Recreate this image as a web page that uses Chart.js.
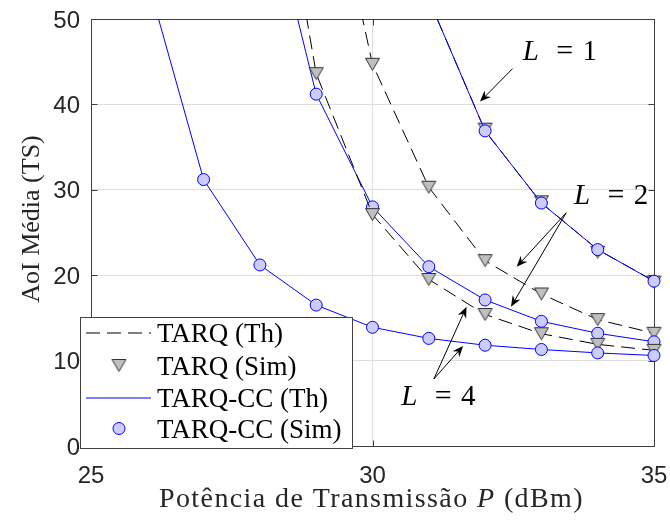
<!DOCTYPE html>
<html>
<head>
<meta charset="utf-8">
<script src="https://cdn.jsdelivr.net/npm/chart.js@4.4.1/dist/chart.umd.min.js"></script>
<style>
body{margin:0;background:#fff;}
</style>
</head>
<body>
<canvas id="chart" width="670" height="524"></canvas>
<script>
// transmit power (dBm)
const power = [25,26,27,28,29,30,31,32,33,34,35];
const xTicks = [25,30,35];
const yTicks = [0,10,20,30,40,50];

// theoretical AoI, null where the curve is not drawn
const tarqThL1 = [null,null,null,null,null,null,52.3,36.9,28.45,23.0,19.3];
const tarqThL2 = [null,null,null,null,74.9,44.7,30.3,21.7,17.8,14.8,13.2];
const tarqThL4 = [null,null,null,82.0,43.6,27.1,19.5,15.4,13.15,11.9,11.2];
const ccThL1 = [null,null,null,null,null,null,52.3,36.9,28.45,23.0,19.3];
const ccThL2 = [null,null,null,67.9,41.2,28.0,21.0,17.1,14.6,13.2,12.2];
const ccThL4 = [null,54.7,31.2,21.2,16.5,13.9,12.6,11.8,11.3,10.9,10.6];

// simulated AoI
const tarqSimL1 = [null,null,null,null,null,null,null,37.1,28.6,22.7,19.2];
const tarqSimL2 = [null,null,null,null,null,44.7,30.3,21.7,17.8,14.8,13.2];
const tarqSimL4 = [null,null,null,null,43.6,27.1,19.5,15.4,13.15,11.9,11.2];
const ccSimL1 = [null,null,null,null,null,null,null,36.9,28.45,23.0,19.3];
const ccSimL2 = [null,null,null,null,41.2,28.0,21.0,17.1,14.6,13.2,12.2];
const ccSimL4 = [null,null,31.2,21.2,16.5,13.9,12.6,11.8,11.3,10.9,10.6];

// L annotations (data coords): text anchor, arrow start, arrow tips
const lNames = ['1','2','4'];
const lTextAt = [[32.67,45.25],[33.58,28.37],[30.51,4.77]];
const lArrowFrom = [[32.49,44.2],[33.44,27.3],[31.09,7.85]];
const lArrowTo = [[[31.91,40.33]],[[32.56,20.98],[32.46,16.3]],[[31.67,16.3],[31.61,11.72]]];

const legendNames = ['TARQ (Th)','TARQ (Sim)','TARQ-CC (Th)','TARQ-CC (Sim)'];

const BLUE = '#0000ff';
const serif = '"Liberation Serif","Times New Roman",serif';
const sans = '"Liberation Sans",Arial,sans-serif';

// down-pointing triangle marker
const tri = document.createElement('canvas');
tri.width = 17; tri.height = 15;
(function(){
  let c = tri.getContext('2d');
  c.beginPath();
  c.moveTo(1.5,1.5); c.lineTo(15.5,1.5); c.lineTo(8.5,13.5); c.closePath();
  c.fillStyle = '#bfbfbf'; c.fill();
  c.strokeStyle = '#333'; c.lineWidth = 1; c.stroke();
})();

function pts(arr){
  return power.map((x,i) => ({x:x, y:arr[i]})).filter(p => p.y !== null);
}

function thLine(arr, tarq){
  return {
    data: pts(arr), borderColor: tarq ? '#000' : BLUE, borderWidth: 1,
    borderDash: tarq ? [14,7] : [], pointRadius: 0, tension: 0, fill: false
  };
}
function simPts(arr, tarq){
  return {
    data: pts(arr), showLine: false, clip: false,
    pointStyle: tarq ? tri : 'circle', pointRadius: tarq ? 8 : 6,
    pointBackgroundColor: '#ccccff', pointBorderColor: BLUE, pointBorderWidth: 1
  };
}

// bottom to top
let ds = [
  thLine(tarqThL1,true), simPts(tarqSimL1,true), thLine(ccThL1,false), simPts(ccSimL1,false),
  thLine(tarqThL2,true), simPts(tarqSimL2,true), thLine(ccThL2,false), simPts(ccSimL2,false),
  thLine(tarqThL4,true), simPts(tarqSimL4,true), thLine(ccThL4,false), simPts(ccSimL4,false)
];
ds.forEach((d,i) => { d.order = ds.length - i; });

function arrow(ctx, x0, y0, x1, y1){
  let a = Math.atan2(y1-y0, x1-x0);
  let len = 11, hw = 4.5, notch = 7.5;
  ctx.beginPath();
  ctx.moveTo(x0,y0);
  ctx.lineTo(x1 - Math.cos(a)*notch, y1 - Math.sin(a)*notch);
  ctx.stroke();
  ctx.save();
  ctx.translate(x1,y1); ctx.rotate(a);
  ctx.beginPath();
  ctx.moveTo(0,0); ctx.lineTo(-len,-hw); ctx.lineTo(-notch,0); ctx.lineTo(-len,hw);
  ctx.closePath(); ctx.fill();
  ctx.restore();
}

const frame = {
  id: 'frame',
  beforeDatasetsDraw(chart){
    let ctx = chart.ctx, a = chart.chartArea;
    let l = Math.round(a.left)+0.5, r = Math.round(a.right)+0.5;
    let t = Math.round(a.top)+0.5, b = Math.round(a.bottom)+0.5;
    ctx.save();
    ctx.strokeStyle = '#404040'; ctx.lineWidth = 1;
    ctx.strokeRect(l, t, r-l, b-t);
    ctx.beginPath();
    xTicks.forEach(v => {
      let x = Math.round(chart.scales.x.getPixelForValue(v))+0.5;
      ctx.moveTo(x,b); ctx.lineTo(x,b-6);
      ctx.moveTo(x,t); ctx.lineTo(x,t+6);
    });
    yTicks.forEach(v => {
      let y = Math.round(chart.scales.y.getPixelForValue(v))+0.5;
      ctx.moveTo(l,y); ctx.lineTo(l+6,y);
      ctx.moveTo(r,y); ctx.lineTo(r-6,y);
    });
    ctx.stroke();
    ctx.restore();
  },
  afterDraw(chart){
    let ctx = chart.ctx, sx = chart.scales.x, sy = chart.scales.y;
    ctx.save();

    // L = n labels and arrows
    ctx.strokeStyle = '#000'; ctx.fillStyle = '#000'; ctx.lineWidth = 1;
    lNames.forEach((n,i) => {
      let x0 = sx.getPixelForValue(lArrowFrom[i][0]), y0 = sy.getPixelForValue(lArrowFrom[i][1]);
      lArrowTo[i].forEach(p => arrow(ctx, x0, y0, sx.getPixelForValue(p[0]), sy.getPixelForValue(p[1])));
      let tx = sx.getPixelForValue(lTextAt[i][0]), ty = sy.getPixelForValue(lTextAt[i][1]);
      ctx.textBaseline = 'alphabetic';
      ctx.textAlign = 'left';
      ctx.font = 'italic 29px ' + serif;
      ctx.fillText('L', tx, ty);
      ctx.textAlign = 'center';
      ctx.font = '30px ' + serif;
      ctx.fillText('=', tx+42, ty);
      ctx.font = '29px ' + serif;
      ctx.fillText(n, tx+67, ty);
    });

    // legend
    let lx = 80.5, ly = 317.5, lw = 272, lh = 131;
    ctx.fillStyle = '#fff';
    ctx.fillRect(lx, ly, lw, lh);
    ctx.strokeStyle = '#404040';
    ctx.strokeRect(lx, ly, lw, lh);
    let rows = [333, 365.5, 398, 428.5];
    ctx.lineWidth = 1;
    ctx.strokeStyle = '#000'; ctx.setLineDash([14,7]);
    ctx.beginPath(); ctx.moveTo(86, rows[0]); ctx.lineTo(151, rows[0]); ctx.stroke();
    ctx.setLineDash([]);
    ctx.drawImage(tri, 119 - tri.width/2, rows[1] - tri.height/2);
    ctx.strokeStyle = BLUE;
    ctx.beginPath(); ctx.moveTo(86, rows[2]); ctx.lineTo(151, rows[2]); ctx.stroke();
    ctx.beginPath(); ctx.arc(119, rows[3], 6, 0, Math.PI*2);
    ctx.fillStyle = '#ccccff'; ctx.fill(); ctx.stroke();
    ctx.fillStyle = '#000';
    ctx.font = '27px ' + serif;
    ctx.textAlign = 'left'; ctx.textBaseline = 'alphabetic';
    legendNames.forEach((s,i) => ctx.fillText(s, 157, rows[i] + 9));

    // axis titles
    ctx.fillStyle = '#262626';
    ctx.save();
    ctx.translate(38.5, 219);
    ctx.rotate(-Math.PI/2);
    ctx.textAlign = 'center';
    ctx.font = '26px ' + serif;
    ctx.fillText('AoI Média (TS)', 0, 0);
    ctx.restore();

    let parts = [['Potência de Transmissão ', ''], ['P', 'italic '], [' (dBm)', '']];
    ctx.letterSpacing = '1.4px';
    let total = 0;
    parts.forEach(p => { ctx.font = p[1] + '28px ' + serif; total += ctx.measureText(p[0]).width; });
    let x = 371.5 - total/2;
    ctx.textAlign = 'left';
    parts.forEach(p => {
      ctx.font = p[1] + '28px ' + serif;
      ctx.fillText(p[0], x, 507);
      x += ctx.measureText(p[0]).width;
    });
    ctx.restore();
  }
};

new Chart(document.getElementById('chart'), {
  type: 'line',
  data: { datasets: ds },
  options: {
    responsive: false,
    animation: false,
    devicePixelRatio: 1,
    layout: { padding: { top: 19, right: 16, left: 0, bottom: 0 } },
    plugins: { legend: { display: false }, tooltip: { enabled: false } },
    scales: {
      x: {
        type: 'linear', min: 25, max: 35,
        afterBuildTicks: s => { s.ticks = xTicks.map(v => ({value: v})); },
        afterFit: s => { s.height = 78; s.paddingLeft = 0; s.paddingRight = 0; },
        ticks: { font: { family: sans, size: 24 }, color: '#262626', padding: 16, maxRotation: 0, autoSkip: false },
        grid: { color: '#dedede', drawTicks: false },
        border: { display: false }
      },
      y: {
        min: 0, max: 50,
        afterBuildTicks: s => { s.ticks = yTicks.map(v => ({value: v})); },
        afterFit: s => { s.width = 91; s.paddingTop = 0; s.paddingBottom = 0; },
        ticks: { font: { family: sans, size: 24 }, color: '#262626', padding: 11, labelOffset: 2 },
        grid: { color: '#dedede', drawTicks: false },
        border: { display: false }
      }
    }
  },
  plugins: [frame]
});
</script>
</body>
</html>
